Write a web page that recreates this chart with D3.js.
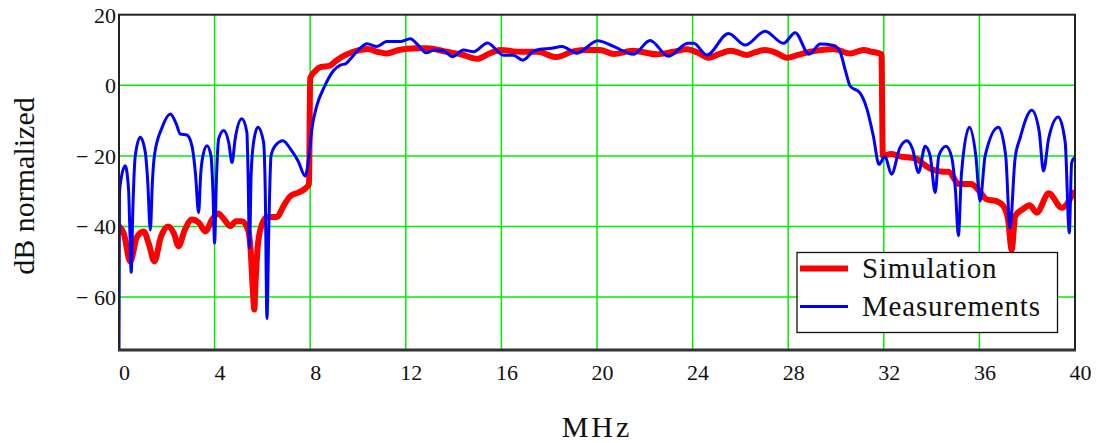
<!DOCTYPE html>
<html>
<head>
<meta charset="utf-8">
<script src="https://cdn.jsdelivr.net/npm/d3@7"></script>
<style>
  html, body { margin: 0; padding: 0; background: #fff; }
  svg { display: block; }
  text { font-family: "Liberation Serif", "Times New Roman", serif; fill: #111; }
</style>
</head>
<body>
<svg id="chart" width="1097" height="443"></svg>
<script>
// ---------- data ----------
const xTicks = [0, 4, 8, 12, 16, 20, 24, 28, 32, 36, 40];
const yTicks = [20, 0, -20, -40, -60];
const seriesNames = ["Simulation", "Measurements"];
const xLabel = "MHz";
const yLabel = "dB normalized";

const simFreq = [0, 0.2, 0.47, 0.75, 1.03, 1.25, 1.48, 1.75, 2.05, 2.3, 2.49, 2.75, 3.05, 3.35, 3.61, 3.9, 4.15, 4.4, 4.66, 4.9, 5.14, 5.4, 5.5, 5.6, 5.66, 5.72, 5.8, 5.95, 6.2, 6.6, 6.9, 7.17, 7.5, 7.75, 7.95,
  8.0, 8.2, 8.45, 8.8, 9.1, 9.4, 9.8, 10.4, 10.8, 11.2, 11.7, 12.4, 12.9, 13.7, 14.3, 14.98, 15.5, 15.95, 16.8, 17.5, 18.3, 19.0, 19.6, 20.13, 20.7, 21.5, 22.5, 23.2, 23.76, 24.2, 24.66, 25.1, 25.6, 26.27, 26.6, 27.03, 27.5, 27.94, 28.4, 28.92, 29.4, 29.9, 30.59, 31.15, 31.5, 31.9,
  31.96, 32.3, 32.7, 33.0, 33.38, 33.7, 34.0, 34.5, 34.7, 35.15, 35.65, 36.0, 36.3, 36.7, 37.0, 37.2, 37.35, 37.5, 37.84, 38.1, 38.4, 38.9, 39.45, 39.93];
const simDb = [-39.9, -42, -49.9, -43, -41.4, -45, -49.9, -43, -40, -42, -45.6, -41, -38, -39, -41.4, -38, -36.3, -38, -39.9, -38.5, -38.5, -41, -46, -58, -63.5, -55, -46, -40, -37.3, -37.3, -34, -31.4, -30.4, -29.5, -28,
  2.0, 4, 5.2, 5.5, 7, 8.3, 9.5, 10.3, 9.5, 9, 10, 10.5, 10.5, 9.5, 8.8, 7.5, 9, 10, 9.5, 9.5, 8, 9.6, 10, 10, 8.9, 9.8, 8.8, 9.5, 10.2, 9.3, 7.8, 8.8, 9.8, 8.6, 9.3, 10, 9.2, 7.8, 8.6, 9.5, 10, 10.3, 9, 10, 9.5, 8.8,
  -20, -19.5, -20.2, -20.4, -20.9, -22.5, -23.8, -24.5, -24.5, -28, -28, -30, -32.3, -32.8, -34.2, -38, -46.6, -37, -35, -34, -36.1, -30.6, -34.7, -30.4];

const measFreq = [0, 0.02, 0.1, 0.26, 0.4, 0.45, 0.51, 0.58, 0.68, 0.89, 1.1, 1.2, 1.31, 1.4, 1.48, 1.8, 2.15, 2.4, 2.56, 2.84, 3.05, 3.2, 3.33, 3.42, 3.51, 3.68, 3.85, 3.93, 4.0, 4.07, 4.17, 4.38, 4.59, 4.73, 4.86, 5.14, 5.35, 5.4, 5.46, 5.53, 5.63, 5.81, 6.05, 6.12, 6.19, 6.27, 6.36, 6.54, 6.86, 7.17, 7.5, 7.79, 7.95,
  8.07, 8.28, 8.56, 8.98, 9.26, 9.5, 9.67, 10.09, 10.37, 10.79, 11.2, 11.77, 12.19, 12.5, 12.85, 13.2, 13.58, 13.95, 14.41, 14.83, 15.42, 16.09, 16.5, 16.9, 17.34, 17.62, 18.1, 18.53, 19.16, 20.03, 20.69, 21.53, 22.22, 22.99, 23.8, 24.04, 24.6, 25.5, 26.2, 27.03, 27.8, 28.29, 28.87, 29.34, 29.9, 30.17, 30.4, 30.59, 31.01, 31.29, 31.56, 31.8,
  32.05, 32.32, 32.68, 32.96, 33.2, 33.45, 33.73, 33.94, 34.15, 34.3, 34.6, 34.84, 35.0, 35.12, 35.25, 35.58, 35.85, 36.03, 36.24, 36.8, 37.1, 37.28, 37.49, 37.7, 38.19, 38.5, 38.68, 38.9, 39.3, 39.59, 39.76, 39.86, 40];
const measDb = [-75, -30.4, -26, -22.8, -29.5, -40, -53, -35, -20, -14.7, -19, -27, -41, -27, -20, -12, -8.1, -11, -13.8, -14.1, -17.1, -25, -36.1, -25, -20, -17.1, -20, -30, -44.7, -28, -15.2, -12.8, -16.2, -21.9, -15.2, -9.5, -13.3, -25, -46.1, -25, -16.2, -11.9, -16.2, -30, -66.1, -40, -20, -17.1, -15.7, -18, -21.5, -25.7, -20,
  -12.4, -5.7, -0.9, 4.2, 5.7, 6.2, 7.4, 10.5, 11.8, 11, 12.4, 12.4, 13.2, 11.5, 9.2, 10, 9.8, 8.1, 10, 9.5, 12, 8.5, 8.5, 7.1, 9.6, 10.2, 10.5, 11, 9.1, 12.6, 11, 8.8, 12.7, 8.2, 11.9, 11.9, 8.6, 14.7, 11.4, 15.3, 11.9, 14.9, 8.8, 11.7, 11.3, 9.5, 4, -0.2, -2.2, -6.6, -14.3, -22.4,
  -20.2, -25.2, -17.6, -15.7, -18, -24.7, -17.3, -20, -30.4, -20, -17.3, -20.4, -30, -42.6, -25, -11.9, -20, -32.8, -20, -11.9, -20, -40.4, -20.9, -15, -7.1, -13, -24.3, -15, -9, -16.2, -41.8, -21.9, -20.4];

// ---------- layout ----------
const svg = d3.select("#chart");
const mLeft = 119, mRight = 1075, mTop = 14.7, mBottom = 350;
const x = d3.scaleLinear().domain([0, 40]).range([mLeft, mRight]);
const y = d3.scaleLinear().domain([-75, 20]).range([mBottom, mTop]);
const colors = { sim: "#ff0000", meas: "#0000ff", grid: "#00ee00" };

svg.append("defs").append("clipPath").attr("id", "clip")
  .append("rect").attr("x", mLeft).attr("y", mTop).attr("width", mRight - mLeft).attr("height", mBottom - mTop);

// grid
svg.append("g").selectAll("line").data(xTicks.filter(d => d > 0 && d < 40)).join("line")
  .attr("x1", d => x(d)).attr("x2", d => x(d)).attr("y1", mTop).attr("y2", mBottom)
  .attr("stroke", colors.grid).attr("stroke-width", 1.5);
svg.append("g").selectAll("line").data(yTicks.filter(d => d < 20)).join("line")
  .attr("x1", mLeft).attr("x2", mRight).attr("y1", d => y(d)).attr("y2", d => y(d))
  .attr("stroke", colors.grid).attr("stroke-width", 1.5);

// lines
const line = d3.line().x(d => x(d[0])).y(d => y(d[1])).curve(d3.curveMonotoneX);
const simData = simFreq.map((f, i) => [f, simDb[i]]);
const measData = measFreq.map((f, i) => [f, measDb[i]]);
const plot = svg.append("g").attr("clip-path", "url(#clip)");
plot.append("path").attr("d", line(simData)).attr("fill", "none")
  .attr("stroke", colors.sim).attr("stroke-width", 6).attr("stroke-linejoin", "round").attr("stroke-linecap", "round");
plot.append("path").attr("d", line(measData)).attr("fill", "none")
  .attr("stroke", colors.meas).attr("stroke-width", 3).attr("stroke-linejoin", "round");

// frame
svg.append("rect").attr("x", mLeft).attr("y", mTop).attr("width", mRight - mLeft).attr("height", mBottom - mTop)
  .attr("fill", "none").attr("stroke", "#222").attr("stroke-width", 2);
svg.append("line").attr("x1", mLeft - 1).attr("x2", mRight + 1).attr("y1", mBottom).attr("y2", mBottom)
  .attr("stroke", "#333").attr("stroke-width", 3);

// axes via d3 axis (text only)
const fmtY = d => d < 0 ? "\u2212 " + Math.abs(d) : String(d);
const yAxis = svg.append("g").attr("transform", `translate(${mLeft - 3},0)`)
  .call(d3.axisLeft(y).tickValues(yTicks).tickSize(0).tickPadding(0).tickFormat(fmtY));
yAxis.select(".domain").remove();
yAxis.selectAll("text").attr("font-size", 22).attr("font-family", "Liberation Serif").attr("fill", "#111").attr("dy", "0.34em");

const xAxis = svg.append("g").attr("transform", `translate(5,${mBottom})`)
  .call(d3.axisBottom(x).tickValues(xTicks).tickSize(0).tickPadding(0).tickFormat(d3.format("d")));
xAxis.select(".domain").remove();
xAxis.selectAll("text").attr("font-size", 22).attr("font-family", "Liberation Serif").attr("fill", "#111").attr("dy", null).attr("y", 30);

// axis titles
svg.append("text").attr("x", 597).attr("y", 437).attr("text-anchor", "middle")
  .attr("font-size", 30).attr("letter-spacing", 3).text(xLabel);
svg.append("text").attr("transform", "translate(34,186) rotate(-90)").attr("text-anchor", "middle")
  .attr("font-size", 30).text(yLabel);

// legend
const lg = svg.append("g");
lg.append("rect").attr("x", 797).attr("y", 252.5).attr("width", 260.5).attr("height", 80)
  .attr("fill", "#fff").attr("stroke", "#111").attr("stroke-width", 1.3);
const legendItems = [
  { name: seriesNames[0], color: colors.sim, w: 6, yy: 268.5 },
  { name: seriesNames[1], color: colors.meas, w: 3, yy: 306.5 }
];
legendItems.forEach(it => {
  lg.append("line").attr("x1", 800).attr("x2", 848).attr("y1", it.yy).attr("y2", it.yy)
    .attr("stroke", it.color).attr("stroke-width", it.w);
  lg.append("text").attr("x", 862).attr("y", it.yy + 9.5).attr("font-size", 29).attr("letter-spacing", 0.8).text(it.name);
});
</script>
</body>
</html>
